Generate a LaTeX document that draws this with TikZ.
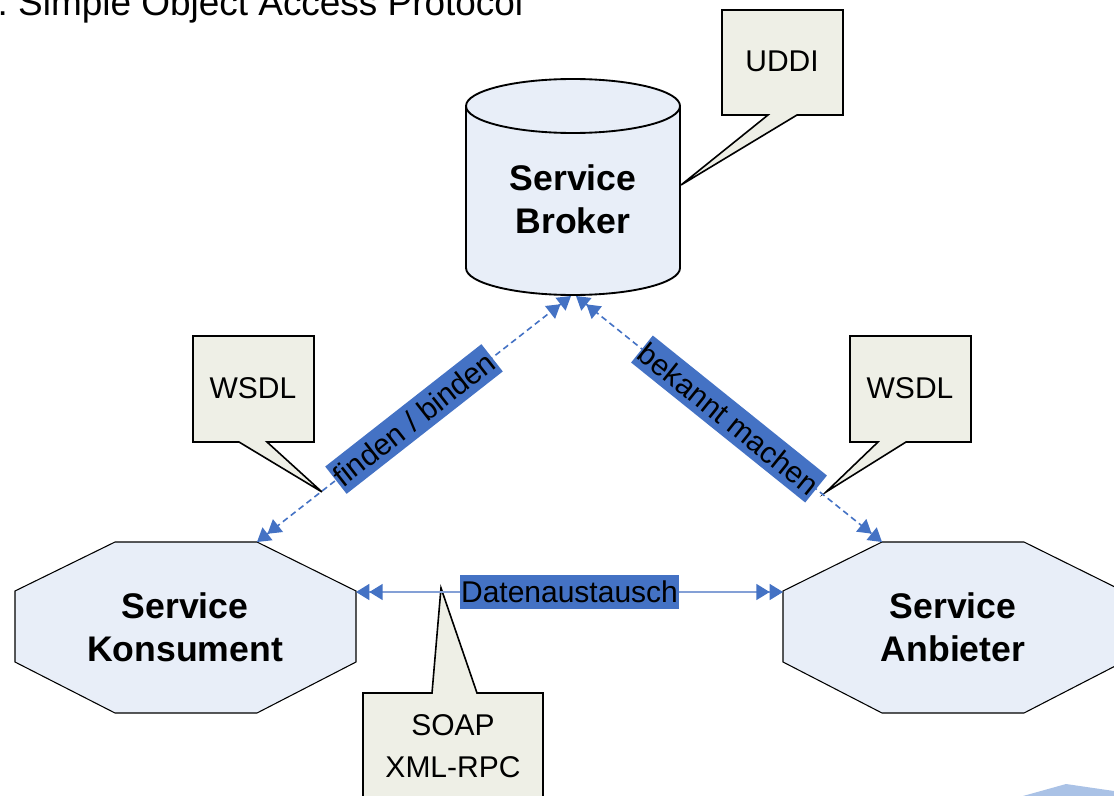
\documentclass[tikz,border=0pt]{standalone}
\usepackage{fontspec}
\setmainfont{Liberation Sans}
\usetikzlibrary{arrows.meta}
\definecolor{shapefill}{RGB}{232,238,248}
\definecolor{callfill}{RGB}{238,239,230}
\definecolor{arrowblue}{RGB}{68,114,196}
\definecolor{lineblue}{RGB}{132,160,214}
\definecolor{labelblue}{RGB}{68,114,196}
\definecolor{decoblue}{RGB}{170,194,230}
\begin{document}
\begin{tikzpicture}[x=0.75pt,y=-0.75pt,
 shapeline/.style={draw=black,line width=0.8pt,fill=shapefill},
 cylline/.style={draw=black,line width=1.4pt,fill=shapefill},
 callout/.style={draw=black,line width=1.2pt,fill=callfill,line join=miter},
 bigtext/.style={inner sep=0pt,align=center,font=\fontsize{26.7}{32}\selectfont\bfseries},
 calltext/.style={inner sep=0pt,align=center,font=\fontsize{22.5}{31.5}\selectfont},
 lbl/.style={fill=labelblue,inner xsep=0.6pt,inner ysep=0pt,minimum height=26pt,font=\fontsize{22.5}{27}\selectfont,text=black},
 dheads/.style={{Triangle[length=10pt,width=12pt,color=arrowblue]Triangle[length=10pt,width=12pt,color=arrowblue]}-{Triangle[length=10pt,width=12pt,color=arrowblue]Triangle[length=10pt,width=12pt,color=arrowblue]}},
 dashlink/.style={dheads,draw=arrowblue,line width=1.2pt,dash pattern=on 4.5pt off 3pt},
 solidlink/.style={dheads,draw=lineblue,line width=1.1pt}
]
\useasboundingbox (0,0) rectangle (1114,796);

% title
\node[anchor=base west,inner sep=0pt,font=\fontsize{27.7}{33}\selectfont] (title) at (18,15) {\llap{:\ }Simple Object Access Protocol};

% bottom-right decoration
\fill[decoblue] (1023,796) -- (1066,784) -- (1114,791) -- (1114,796) -- cycle;

% callouts
\draw[callout] (722,10) -- (843,10) -- (843,115) -- (797,115) -- (681,185) -- (768,115) -- (722,115) -- cycle;
\node[calltext] (uddi) at (782,61) {UDDI};
\draw[callout] (193,336) -- (314,336) -- (314,442) -- (267,442) -- (322,492) -- (239,442) -- (193,442) -- cycle;
\node[calltext] (wsdlL) at (253,388) {WSDL};
\draw[callout] (850,336) -- (971,336) -- (971,442) -- (906,442) -- (826,492) -- (878,442) -- (850,442) -- cycle;
\node[calltext] (wsdlR) at (910,388) {WSDL};
\draw[callout] (363,800) -- (363,693) -- (432,693) -- (441,588) -- (477,693) -- (543,693) -- (543,800);
\node[calltext] (soap) at (453,746) {SOAP\\XML-RPC};

% service broker cylinder
\draw[cylline] (466,106) -- (466,268) arc[start angle=180,end angle=0,x radius=107,y radius=27] -- (680,106) arc[start angle=0,end angle=-180,x radius=107,y radius=27] -- cycle;
\draw[line width=1.4pt] (466,106) arc[start angle=180,end angle=0,x radius=107,y radius=27];
\node[bigtext] (broker) at (573,199) {Service\\Broker};

% octagons
\draw[shapeline] (115,542) -- (257,542) -- (356,591) -- (356,662) -- (257,713) -- (115,713) -- (15,662) -- (15,591) -- cycle;
\node[bigtext] (kons) at (185,627) {Service\\Konsument};
\draw[shapeline] (882,542) -- (1024,542) -- (1123,591) -- (1123,662) -- (1024,713) -- (882,713) -- (783,662) -- (783,591) -- cycle;
\node[bigtext] (anb) at (953,627) {Service\\Anbieter};

% connector end points
\coordinate (brkL) at (571,296);
\coordinate (brkR) at (576,296);
\coordinate (konsTR) at (257,542);
\coordinate (konsR) at (356,592);
\coordinate (anbTL) at (882,542);
\coordinate (anbL) at (783,592);

% connectors
\draw[dashlink] (konsTR) -- node[lbl,sloped] (l1) {finden / binden} (brkL);
\draw[dashlink] (brkR) -- node[lbl,sloped] (l2) {bekannt machen} (anbTL);
\draw[solidlink] (konsR) -- node[lbl] (l3) {Datenaustausch} (anbL);
\end{tikzpicture}
\end{document}
